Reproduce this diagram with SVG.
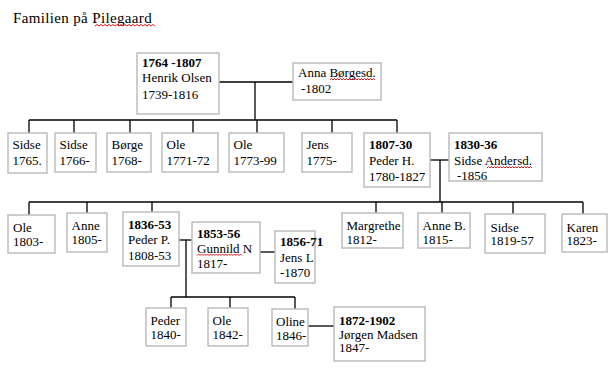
<svg xmlns="http://www.w3.org/2000/svg" width="612" height="370" viewBox="0 0 612 370">
<style>
  .box { fill: #ffffff; stroke: #bdbdbd; stroke-width: 1.5; }
  .t { font-family: "Liberation Serif", "Times New Roman", serif; font-size: 13px; fill: #000; }
  .b { font-weight: bold; }
  .title { font-family: "Liberation Serif", "Times New Roman", serif; font-size: 15px; letter-spacing: 0.35px; fill: #000; }
  .c { stroke: #000; stroke-width: 1.3; fill: none; }
  .sq { stroke: #e00000; stroke-width: 0.9; fill: none; }
</style>
<rect width="612" height="370" fill="#ffffff"/>
<text class="title" x="13" y="23">Familien på Pilegaard</text>
<path class="sq" d="M95,26 l2,-1.5 l2,1.5 l2,-1.5 l2,1.5 l2,-1.5 l2,1.5 l2,-1.5 l2,1.5 l2,-1.5 l2,1.5 l2,-1.5 l2,1.5 l2,-1.5 l2,1.5 l2,-1.5 l2,1.5 l2,-1.5 l2,1.5 l2,-1.5 l2,1.5 l2,-1.5 l2,1.5 l2,-1.5 l2,1.5 l2,-1.5 l2,1.5 l2,-1.5 l2,1.5 l2,-1.5 l2,1.5"/>

<g id="connectors">
  <path class="c" d="M219,82 H293"/>
  <path class="c" d="M255,82 V120"/>
  <path class="c" d="M29,120 H397"/>
  <path class="c" d="M29,120 V133 M74,120 V133 M130,120 V133 M193,120 V133 M257,120 V133 M332,120 V133 M397,120 V133"/>
  <path class="c" d="M430,160 H449"/>
  <path class="c" d="M440,160 V202"/>
  <path class="c" d="M29,202 H583"/>
  <path class="c" d="M29,202 V215 M87,202 V213 M152,202 V212 M376,202 V213 M442,202 V213 M513,202 V214 M583,202 V214"/>
  <path class="c" d="M179,240 H192"/>
  <path class="c" d="M260,252 H275"/>
  <path class="c" d="M186,240 V297"/>
  <path class="c" d="M171,297 H295"/>
  <path class="c" d="M171,297 V308 M230,297 V308 M295,297 V309"/>
  <path class="c" d="M308,326 H334"/>
</g>

<g id="henrik">
  <rect class="box" x="137" y="53" width="82" height="61"/>
  <text class="t b" x="142" y="67">1764 -1807</text>
  <text class="t" x="142" y="82">Henrik Olsen</text>
  <text class="t" x="142" y="99">1739-1816</text>
</g>
<g id="anna">
  <rect class="box" x="293" y="63" width="88" height="37"/>
  <text class="t" x="298" y="77">Anna Børgesd.</text>
  <text class="t" x="301" y="93">-1802</text>
  <path class="sq" d="M330,80 l1.5,-1.5 l1.5,1.5 l1.5,-1.5 l1.5,1.5 l1.5,-1.5 l1.5,1.5 l1.5,-1.5 l1.5,1.5 l1.5,-1.5 l1.5,1.5 l1.5,-1.5 l1.5,1.5 l1.5,-1.5 l1.5,1.5 l1.5,-1.5 l1.5,1.5 l1.5,-1.5 l1.5,1.5 l1.5,-1.5 l1.5,1.5 l1.5,-1.5 l1.5,1.5 l1.5,-1.5 l1.5,1.5 l1.5,-1.5 l1.5,1.5 l1.5,-1.5 l1.5,1.5 l1.5,-1.5 l1.5,1.5"/>
</g>

<g id="sidse1765">
  <rect class="box" x="8" y="133" width="39" height="40"/>
  <text class="t" x="12.5" y="149">Sidse</text>
  <text class="t" x="12.5" y="164.5">1765.</text>
</g>
<g id="sidse1766">
  <rect class="box" x="55" y="133" width="41" height="39"/>
  <text class="t" x="59.5" y="149">Sidse</text>
  <text class="t" x="59.5" y="164.5">1766-</text>
</g>
<g id="borge1768">
  <rect class="box" x="107" y="133" width="44" height="39"/>
  <text class="t" x="111.5" y="149">Børge</text>
  <text class="t" x="111.5" y="164.5">1768-</text>
</g>
<g id="ole1771">
  <rect class="box" x="162" y="133" width="56" height="39"/>
  <text class="t" x="166.5" y="149">Ole</text>
  <text class="t" x="166.5" y="164.5">1771-72</text>
</g>
<g id="ole1773">
  <rect class="box" x="229" y="133" width="55" height="39"/>
  <text class="t" x="233.5" y="149">Ole</text>
  <text class="t" x="233.5" y="164.5">1773-99</text>
</g>
<g id="jens1775">
  <rect class="box" x="302" y="133" width="50" height="39"/>
  <text class="t" x="306.5" y="149">Jens</text>
  <text class="t" x="306.5" y="164.5">1775-</text>
</g>
<g id="pederH">
  <rect class="box" x="364" y="133" width="66" height="54"/>
  <text class="t b" x="369" y="149">1807-30</text>
  <text class="t" x="369" y="165">Peder H.</text>
  <text class="t" x="369" y="181">1780-1827</text>
</g>
<g id="sidseAndersd">
  <rect class="box" x="449" y="133" width="93" height="48"/>
  <text class="t b" x="454" y="149">1830-36</text>
  <text class="t" x="454" y="165">Sidse Andersd.</text>
  <text class="t" x="457" y="180">-1856</text>
  <path class="sq" d="M487,168 l1.5,-1.5 l1.5,1.5 l1.5,-1.5 l1.5,1.5 l1.5,-1.5 l1.5,1.5 l1.5,-1.5 l1.5,1.5 l1.5,-1.5 l1.5,1.5 l1.5,-1.5 l1.5,1.5 l1.5,-1.5 l1.5,1.5 l1.5,-1.5 l1.5,1.5 l1.5,-1.5 l1.5,1.5 l1.5,-1.5 l1.5,1.5 l1.5,-1.5 l1.5,1.5 l1.5,-1.5 l1.5,1.5 l1.5,-1.5 l1.5,1.5 l1.5,-1.5 l1.5,1.5 l1.5,-1.5 l1.5,1.5"/>
</g>

<g id="ole1803">
  <rect class="box" x="8" y="215" width="47" height="38"/>
  <text class="t" x="13" y="231.5">Ole</text>
  <text class="t" x="13" y="246">1803-</text>
</g>
<g id="anne1805">
  <rect class="box" x="67" y="213" width="40" height="39"/>
  <text class="t" x="71.5" y="230">Anne</text>
  <text class="t" x="71.5" y="244">1805-</text>
</g>
<g id="pederP">
  <rect class="box" x="123" y="212" width="56" height="54"/>
  <text class="t b" x="128" y="229">1836-53</text>
  <text class="t" x="128" y="244">Peder P.</text>
  <text class="t" x="128" y="259.5">1808-53</text>
</g>
<g id="gunnild">
  <rect class="box" x="192" y="222" width="68" height="51"/>
  <text class="t b" x="197" y="237.5">1853-56</text>
  <text class="t" x="197" y="252.5">Gunnild N</text>
  <text class="t" x="197" y="267.5">1817-</text>
  <path class="sq" d="M197,255.5 l1.5,-1.5 l1.5,1.5 l1.5,-1.5 l1.5,1.5 l1.5,-1.5 l1.5,1.5 l1.5,-1.5 l1.5,1.5 l1.5,-1.5 l1.5,1.5 l1.5,-1.5 l1.5,1.5 l1.5,-1.5 l1.5,1.5 l1.5,-1.5 l1.5,1.5 l1.5,-1.5 l1.5,1.5 l1.5,-1.5 l1.5,1.5 l1.5,-1.5 l1.5,1.5 l1.5,-1.5 l1.5,1.5 l1.5,-1.5 l1.5,1.5 l1.5,-1.5 l1.5,1.5 l1.5,-1.5 l1.5,1.5"/>
</g>
<g id="jensL">
  <rect class="box" x="275" y="231" width="40" height="52"/>
  <text class="t b" x="280" y="246">1856-71</text>
  <text class="t" x="280" y="261.5">Jens L</text>
  <text class="t" x="280" y="276.5">-1870</text>
</g>
<g id="margrethe">
  <rect class="box" x="342" y="213" width="61" height="35"/>
  <text class="t" x="346.5" y="230">Margrethe</text>
  <text class="t" x="346.5" y="243.5">1812-</text>
</g>
<g id="anneB">
  <rect class="box" x="418" y="213" width="52" height="35"/>
  <text class="t" x="422.5" y="230">Anne B.</text>
  <text class="t" x="422.5" y="243.5">1815-</text>
</g>
<g id="sidse1819">
  <rect class="box" x="485" y="214" width="60" height="39"/>
  <text class="t" x="490.5" y="231.5">Sidse</text>
  <text class="t" x="490.5" y="245">1819-57</text>
</g>
<g id="karen1823">
  <rect class="box" x="562" y="214" width="45" height="38"/>
  <text class="t" x="566.5" y="231.5">Karen</text>
  <text class="t" x="566.5" y="245">1823-</text>
</g>

<g id="peder1840">
  <rect class="box" x="146" y="308" width="40" height="38"/>
  <text class="t" x="150.5" y="325">Peder</text>
  <text class="t" x="150.5" y="338.5">1840-</text>
</g>
<g id="ole1842">
  <rect class="box" x="208" y="308" width="40" height="38"/>
  <text class="t" x="212.5" y="325">Ole</text>
  <text class="t" x="212.5" y="338.5">1842-</text>
</g>
<g id="oline1846">
  <rect class="box" x="272" y="309" width="36" height="37"/>
  <text class="t" x="276" y="326">Oline</text>
  <text class="t" x="276" y="339.5">1846-</text>
</g>
<g id="jorgen">
  <rect class="box" x="334" y="307" width="91" height="54"/>
  <text class="t b" x="339" y="325">1872-1902</text>
  <text class="t" x="339" y="338.5">Jørgen Madsen</text>
  <text class="t" x="339" y="352">1847-</text>
</g>
</svg>
